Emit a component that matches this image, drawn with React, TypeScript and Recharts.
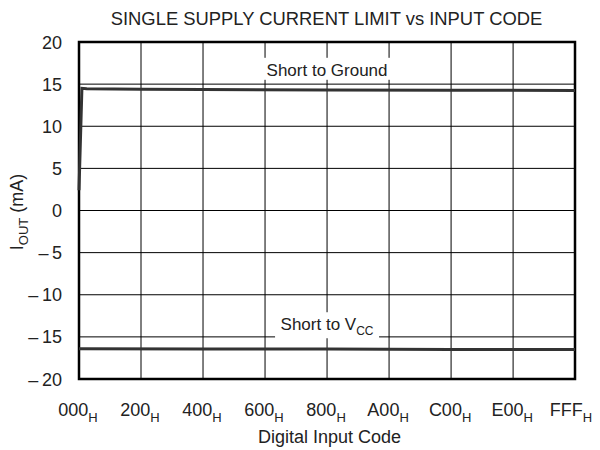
import React from "react";
import { LineChart, Line, XAxis, YAxis, CartesianGrid, ReferenceArea, ReferenceDot } from "recharts";

const xTicks = [0, 512, 1024, 1536, 2048, 2560, 3072, 3584, 4095];
const xTickLabels = ["000", "200", "400", "600", "800", "A00", "C00", "E00", "FFF"];
const yTicks = [-20, -15, -10, -5, 0, 5, 10, 15, 20];

const groundCodes = [0, 24, 64, 512, 1024, 2048, 3072, 4095];
const groundCurrent = [2.4, 14.5, 14.45, 14.4, 14.35, 14.3, 14.28, 14.25];
const vccCodes = [0, 1024, 2048, 3072, 4095];
const vccCurrent = [-16.4, -16.45, -16.45, -16.5, -16.5];

const groundData = groundCodes.map((c, i) => ({ code: c, i: groundCurrent[i] }));
const vccData = vccCodes.map((c, i) => ({ code: c, i: vccCurrent[i] }));

const FONT = "'Liberation Sans', Arial, sans-serif";
const TXT = "#222";

const XTick = (props: any) => {
  const { x, y, payload } = props;
  const idx = xTicks.indexOf(payload.value);
  const shift = idx === xTicks.length - 1 ? -4 : -1;
  return (
    <text x={x + shift} y={y + 29} textAnchor="middle" fontFamily={FONT} fontSize={18} fill={TXT}>
      {xTickLabels[idx]}
      <tspan fontSize={13} dy={6}>H</tspan>
    </text>
  );
};

const YTick = (props: any) => {
  const { x, y, payload } = props;
  const v = payload.value;
  const s = v < 0 ? "\u2013\u2009" + Math.abs(v) : String(v);
  return (
    <text x={x - 9} y={y + 6.5} textAnchor="end" fontFamily={FONT} fontSize={18} fill={TXT}>
      {s}
    </text>
  );
};

const GroundLabel = (props: any) => {
  const vb = props.viewBox || {};
  const cx = vb.x + (vb.width || 0) / 2;
  const cy = vb.y + (vb.height || 0) / 2;
  return (
    <g>
      <rect x={cx - 66} y={cy - 12} width={132} height={22} fill="#fff" />
      <text x={cx} y={cy + 6} textAnchor="middle" fontFamily={FONT} fontSize={17} fill={TXT}>
        Short to Ground
      </text>
    </g>
  );
};

const VccLabel = (props: any) => {
  const vb = props.viewBox || {};
  const cx = vb.x + (vb.width || 0) / 2;
  const cy = vb.y + (vb.height || 0) / 2;
  return (
    <g>
      <rect x={cx - 52} y={cy - 12} width={104} height={26} fill="#fff" />
      <text x={cx} y={cy + 6} textAnchor="middle" fontFamily={FONT} fontSize={17} fill={TXT}>
        Short to V
        <tspan fontSize={12} dy={5}>CC</tspan>
      </text>
    </g>
  );
};

export default function App() {
  return (
    <div style={{ width: 592, height: 442 }}>
      <LineChart width={592} height={442} margin={{ top: 34, right: 25, bottom: 41, left: 0 }}>
        <text x={318.5} y={17} textAnchor="middle" fontFamily={FONT} fontSize={18.4} fill={TXT}>
          SINGLE SUPPLY CURRENT LIMIT vs INPUT CODE
        </text>
        <text x={321.5} y={435} textAnchor="middle" fontFamily={FONT} fontSize={18} fill={TXT}>
          Digital Input Code
        </text>
        <text
          transform="translate(15,204) rotate(-90)"
          textAnchor="middle"
          fontFamily={FONT}
          fontSize={18}
          fill={TXT}
        >
          I<tspan fontSize={13} dy={5}>OUT</tspan>
          <tspan dy={-5}> (mA)</tspan>
        </text>
        <CartesianGrid stroke="#000" strokeWidth={1} horizontal vertical />
        <XAxis
          dataKey="code"
          type="number"
          domain={[0, 4095]}
          ticks={xTicks}
          tick={<XTick />}
          tickLine={false}
          axisLine={false}
          allowDuplicatedCategory={false}
          interval={0}
        />
        <YAxis
          type="number"
          domain={[-20, 20]}
          ticks={yTicks}
          tick={<YTick />}
          tickLine={false}
          axisLine={false}
          width={71}
          interval={0}
        />
        <ReferenceArea x1={0} x2={4095} y1={-20} y2={20} fill="none" stroke="#000" strokeWidth={2.5} />
        <ReferenceDot x={2048} y={16.7} r={0} fill="none" stroke="none" label={<GroundLabel />} />
        <ReferenceDot x={2048} y={-13.5} r={0} fill="none" stroke="none" label={<VccLabel />} />
        <Line
          data={groundData}
          dataKey="i"
          type="linear"
          stroke="#333"
          strokeWidth={3}
          dot={false}
          isAnimationActive={false}
        />
        <Line
          data={vccData}
          dataKey="i"
          type="linear"
          stroke="#333"
          strokeWidth={3}
          dot={false}
          isAnimationActive={false}
        />
      </LineChart>
    </div>
  );
}
